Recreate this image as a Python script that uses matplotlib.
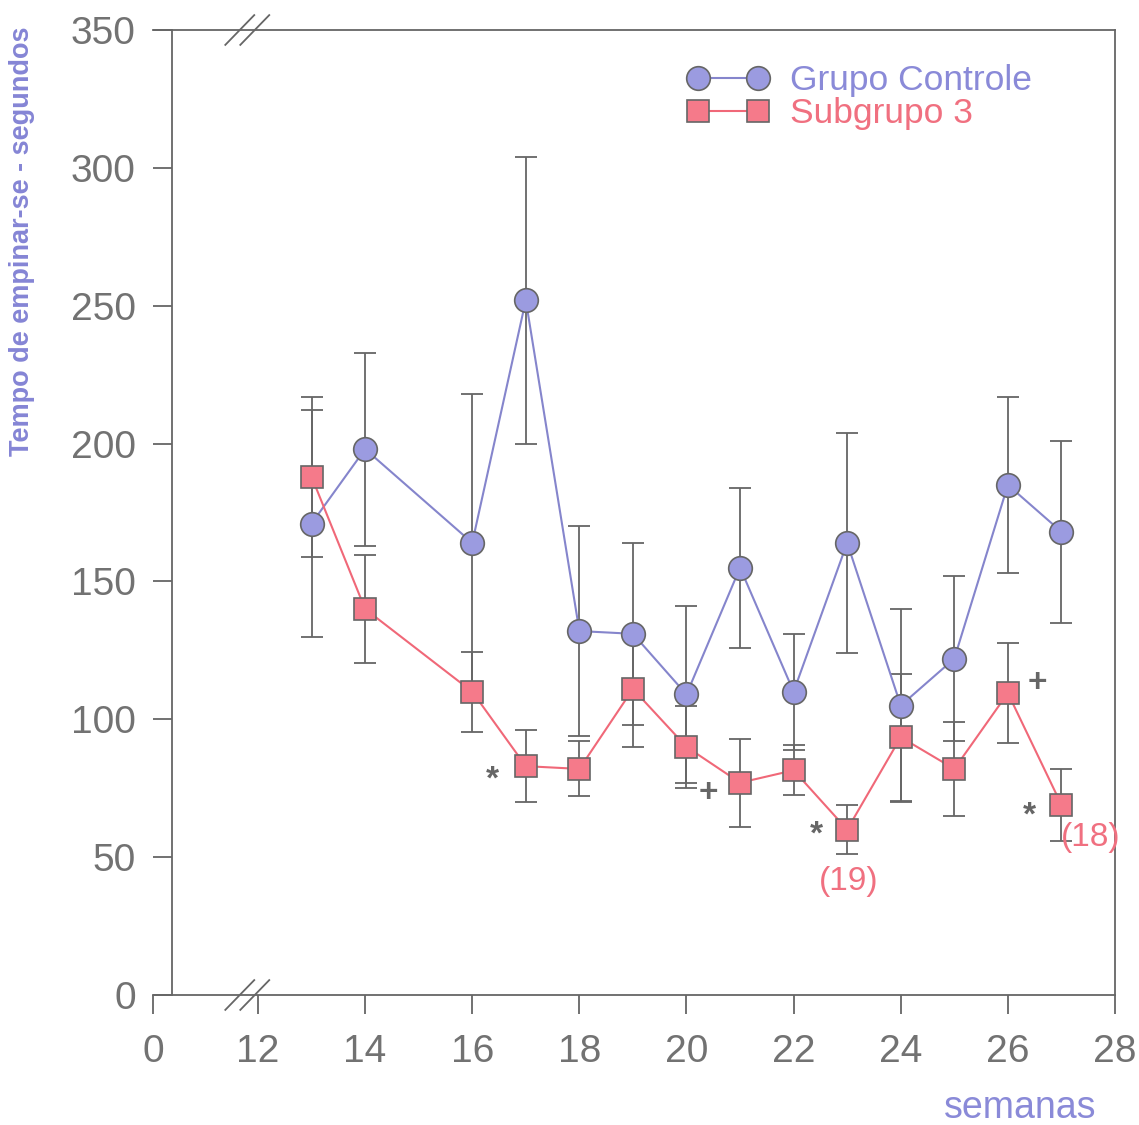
import matplotlib
matplotlib.use('Agg')
import matplotlib.pyplot as plt
from matplotlib.lines import Line2D

plt.rcParams['font.family'] = ['Liberation Sans', 'DejaVu Sans']

# Data (weeks, means, +/- error).
weeks = [13, 14, 16, 17, 18, 19, 20, 21, 22, 23, 24, 25, 26, 27]
ctrlMean = [171, 198, 164, 252, 132, 131, 109, 155, 110, 164, 105, 122, 185, 168]
ctrlErr = [41, 35, 54, 52, 38, 33, 32, 29, 21, 40, 35, 30, 32, 33]
subMean = [188, 140, 110, 83, 82, 111, 90, 77, 81.5, 60, 93.5, 82, 109.5, 69]
subErr = [29, 19.5, 14.5, 13, 10, 21, 15, 16, 9, 9, 23, 17, 18, 13]
xTickPos = [10.04, 12, 14, 16, 18, 20, 22, 24, 26, 28]
xTickLbl = ['0', '12', '14', '16', '18', '20', '22', '24', '26', '28']
yTicks = [0, 50, 100, 150, 200, 250, 300, 350]
# Significance marks: (x, y, text, colour)
marks = [(16.37, 78, '*', '#666666'), (20.40, 73, '+', '#666666'),
         (22.43, 58, '*', '#666666'), (26.56, 113, '+', '#666666'),
         (26.41, 65, '*', '#666666'), (23.03, 41, '(19)', '#f07080'),
         (27.55, 57, '(18)', '#f07080')]

ctrlClr = '#9b9be0'
ctrlLine = '#8585cc'
subClr = '#f57a8a'
subLine = '#f06878'
gray = '#666666'

fig = plt.figure(figsize=(11.39, 11.25), dpi=100)
ax = fig.add_axes([153 / 1139, 1 - 995 / 1125, (1115 - 153) / 1139, (995 - 30) / 1125])

# Error bars behind the markers.
ax.errorbar(weeks, ctrlMean, yerr=ctrlErr, fmt='none', ecolor=gray, elinewidth=1.3,
            capsize=8, capthick=1.3, zorder=1)
ax.errorbar(weeks, subMean, yerr=subErr, fmt='none', ecolor=gray, elinewidth=1.3,
            capsize=8, capthick=1.3, zorder=1)

ax.plot(weeks, ctrlMean, color=ctrlLine, lw=1.5, zorder=2)
ax.plot(weeks, subMean, color=subLine, lw=1.5, zorder=2)
ax.plot(weeks, ctrlMean, 'o', ms=17, mfc=ctrlClr, mec=gray, mew=1.2, zorder=3)
ax.plot(weeks, subMean, 's', ms=15.5, mfc=subClr, mec=gray, mew=1.2, zorder=3)

# Axes setup.
ax.set_xlim(10.04, 28)
ax.set_ylim(0, 350)
ax.spines['left'].set_position(('data', 10.39))
for s in ax.spines.values():
  s.set_color(gray)
  s.set_linewidth(1.3)
ax.set_xticks(xTickPos)
ax.set_xticklabels(xTickLbl)
ax.set_yticks(yTicks)
ax.tick_params(axis='both', colors=gray, labelsize=28, width=1.3, length=14,
               direction='out')
ax.tick_params(axis='x', pad=14)
ax.tick_params(axis='y', pad=12)
for lbl in ax.get_xticklabels() + ax.get_yticklabels():
  lbl.set_color('#727272')

# Axis break marks.
for yb in (0, 350):
  for xc in (11.66, 11.94):
    ax.plot([xc - 0.27, xc + 0.27], [yb - 5.4, yb + 5.4], color=gray, lw=1.3,
            clip_on=False, zorder=5)

# Significance marks.
for (mx, my, txt, clr) in marks:
  if txt in ('*', '+'):
    ax.text(mx, my, txt, color=clr, fontsize=24, ha='center', va='center',
            fontweight='bold')
  else:
    ax.text(mx, my, txt, color=clr, fontsize=24, ha='center', va='center')

# Legend.
handles = [Line2D([0], [0], color=ctrlLine, lw=1.5, marker='o', ms=17, mfc=ctrlClr,
                  mec=gray, mew=1.2),
           Line2D([0], [0], color=subLine, lw=1.5, marker='s', ms=15.5, mfc=subClr,
                  mec=gray, mew=1.2)]
leg = ax.legend(handles, ['Grupo Controle', 'Subgrupo 3'], numpoints=2, frameon=False,
                loc='upper left', bbox_to_anchor=(0.537, 0.983), handlelength=2.3,
                labelspacing=0.0, handletextpad=0.6, fontsize=25.5, borderpad=0)
leg.get_texts()[0].set_color('#8a8ad8')
leg.get_texts()[1].set_color('#f07080')

# Axis titles.
fig.text(22 / 1139, 1 - 241 / 1125, 'Tempo de empinar-se - segundos', rotation=90,
         ha='center', va='center', color='#8585d5', fontsize=19.5, fontweight='bold')
fig.text(1020 / 1139, 1 - 1108 / 1125, 'semanas', ha='center', va='center',
         color='#8a8ad8', fontsize=27)

fig.savefig('out.png', dpi=100)
